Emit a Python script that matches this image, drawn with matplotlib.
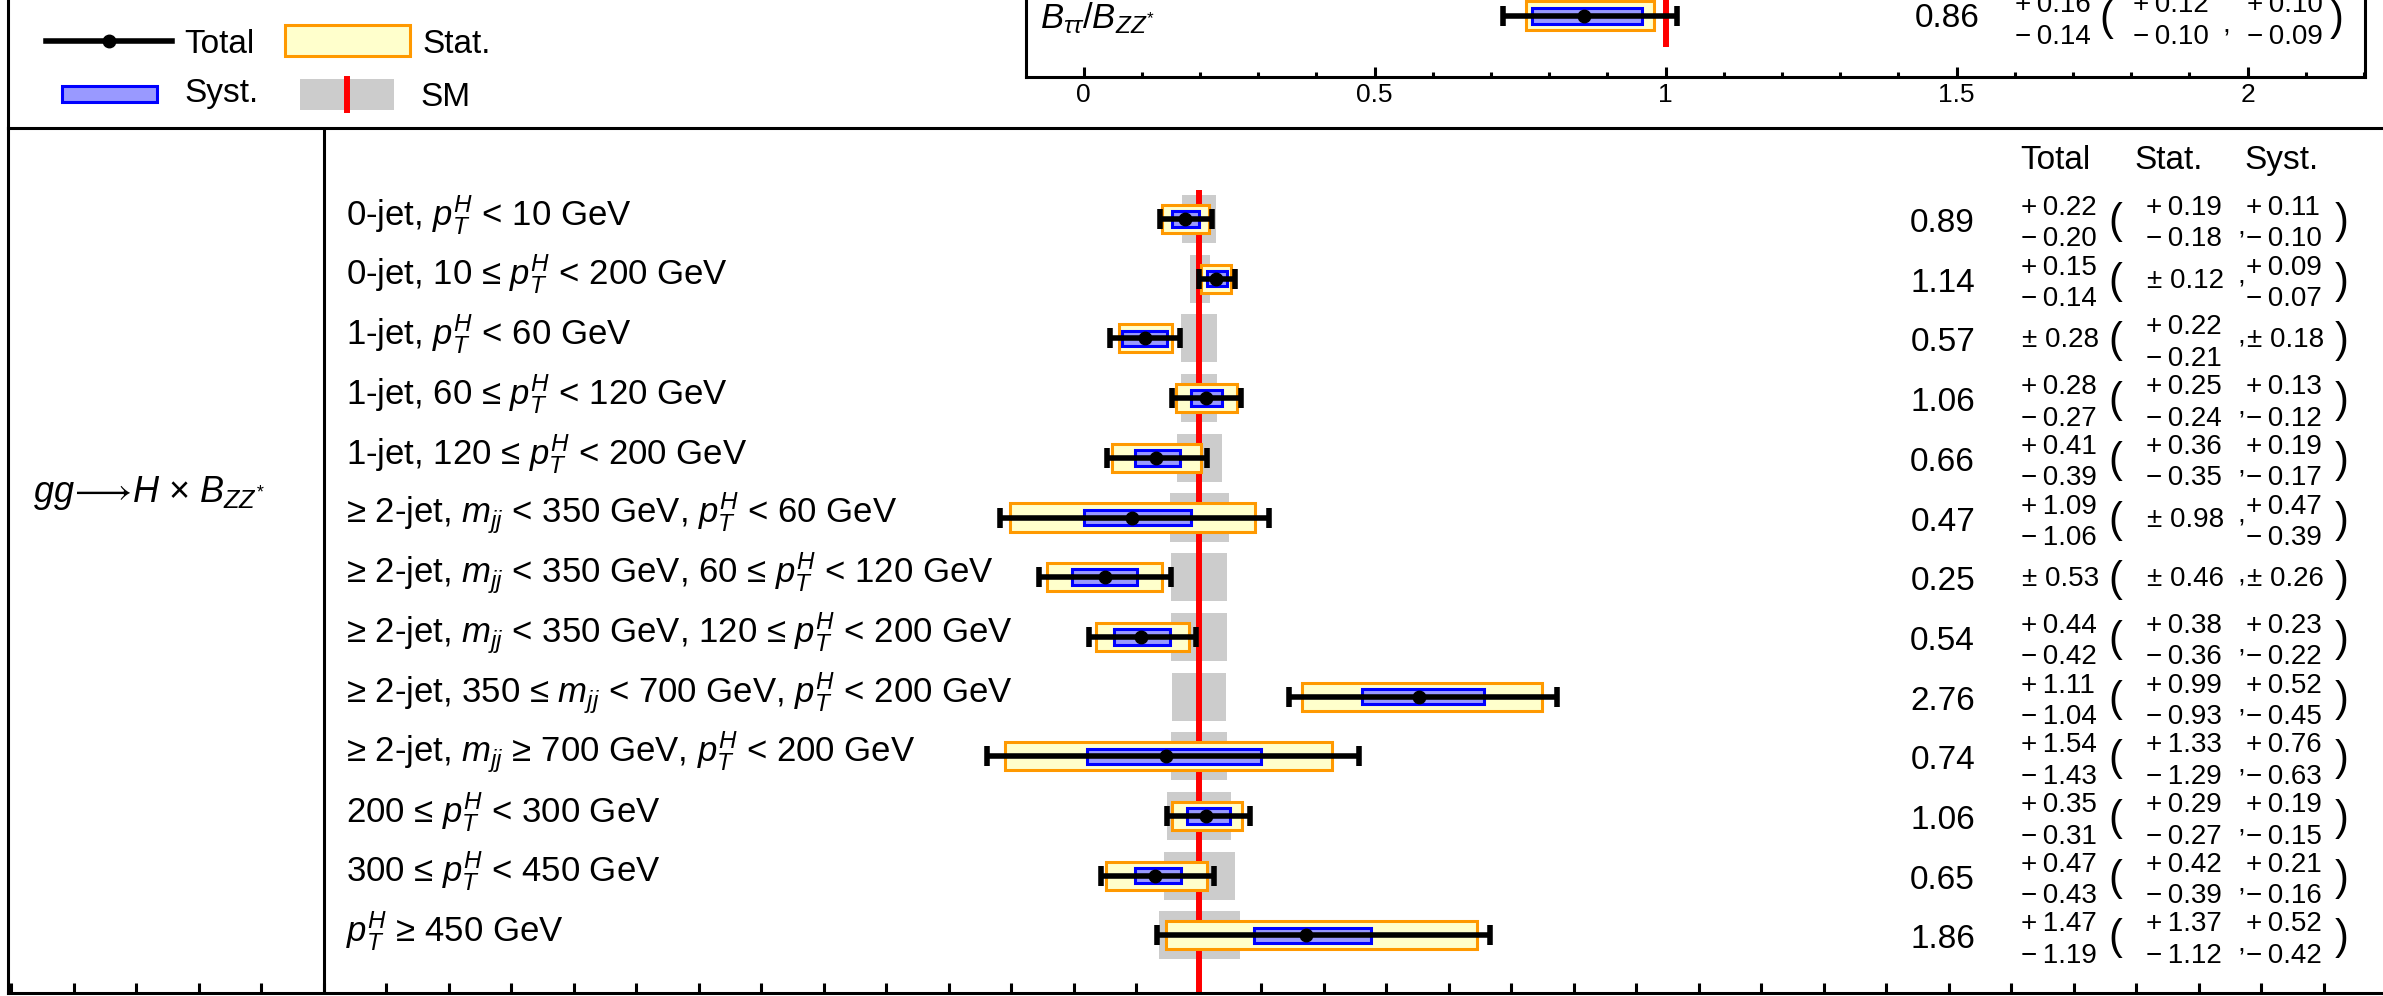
import numpy as np
import matplotlib
matplotlib.use('Agg')
import matplotlib.pyplot as plt
from matplotlib.patches import Rectangle
from matplotlib.ticker import MultipleLocator, FixedLocator, FixedFormatter
from matplotlib.transforms import blended_transform_factory

plt.rcParams['font.family'] = ['Liberation Sans', 'DejaVu Sans']
plt.rcParams['mathtext.fontset'] = 'custom'
plt.rcParams['mathtext.rm'] = 'Liberation Sans'
plt.rcParams['mathtext.it'] = 'Liberation Sans:italic'
plt.rcParams['mathtext.bf'] = 'Liberation Sans:bold'
plt.rcParams['mathtext.fallback'] = 'stixsans'

# ---- data ----
labels = [
    r'0-jet, $p_{T}^{H}$ < 10 GeV',
    r'0-jet, 10 ≤ $p_{T}^{H}$ < 200 GeV',
    r'1-jet, $p_{T}^{H}$ < 60 GeV',
    r'1-jet, 60 ≤ $p_{T}^{H}$ < 120 GeV',
    r'1-jet, 120 ≤ $p_{T}^{H}$ < 200 GeV',
    r'≥ 2-jet, $m_{jj}$ < 350 GeV, $p_{T}^{H}$ < 60 GeV',
    r'≥ 2-jet, $m_{jj}$ < 350 GeV, 60 ≤ $p_{T}^{H}$ < 120 GeV',
    r'≥ 2-jet, $m_{jj}$ < 350 GeV, 120 ≤ $p_{T}^{H}$ < 200 GeV',
    r'≥ 2-jet, 350 ≤ $m_{jj}$ < 700 GeV, $p_{T}^{H}$ < 200 GeV',
    r'≥ 2-jet, $m_{jj}$ ≥ 700 GeV, $p_{T}^{H}$ < 200 GeV',
    r'200 ≤ $p_{T}^{H}$ < 300 GeV',
    r'300 ≤ $p_{T}^{H}$ < 450 GeV',
    r'$p_{T}^{H}$ ≥ 450 GeV',
]
mu      = np.array([0.89, 1.14, 0.57, 1.06, 0.66, 0.47, 0.25, 0.54, 2.76, 0.74, 1.06, 0.65, 1.86])
tot_up  = np.array([0.22, 0.15, 0.28, 0.28, 0.41, 1.09, 0.53, 0.44, 1.11, 1.54, 0.35, 0.47, 1.47])
tot_dn  = np.array([0.20, 0.14, 0.28, 0.27, 0.39, 1.06, 0.53, 0.42, 1.04, 1.43, 0.31, 0.43, 1.19])
stat_up = np.array([0.19, 0.12, 0.22, 0.25, 0.36, 0.98, 0.46, 0.38, 0.99, 1.33, 0.29, 0.42, 1.37])
stat_dn = np.array([0.18, 0.12, 0.21, 0.24, 0.35, 0.98, 0.46, 0.36, 0.93, 1.29, 0.27, 0.39, 1.12])
syst_up = np.array([0.11, 0.09, 0.18, 0.13, 0.19, 0.47, 0.26, 0.23, 0.52, 0.76, 0.19, 0.21, 0.52])
syst_dn = np.array([0.10, 0.07, 0.18, 0.12, 0.17, 0.39, 0.26, 0.22, 0.45, 0.63, 0.15, 0.16, 0.42])
sm_lo   = np.array([0.87, 0.93, 0.86, 0.86, 0.83, 0.77, 0.78, 0.78, 0.79, 0.78, 0.75, 0.72, 0.68])
sm_hi   = np.array([1.14, 1.09, 1.15, 1.15, 1.19, 1.24, 1.23, 1.23, 1.22, 1.23, 1.26, 1.29, 1.33])
sm_value = 1.0
group_label = r'$gg\!\longrightarrow\!H$ × $B_{ZZ^{*}}$'

ratio_label = r'$B_{\tau\tau}/B_{ZZ^{*}}$'
ratio_mu = 0.86
ratio_tot = (0.16, 0.14)
ratio_stat = (0.12, 0.10)
ratio_syst = (0.10, 0.09)

top_ticks = [0, 0.5, 1, 1.5, 2]
top_tick_labels = ['0', '0.5', '1', '1.5', '2']

# ---- layout (pixels of the 2383x996 canvas) ----
W, H = 2383, 996
ROW0, ROW_PX = 219.0, 59.7
X1_PX, PX_UNIT = 1198.6, 125.0
TOP_Y0, TOP_X0, TOP_UNIT = 16.0, 1083.5, 582.0
LW = 2.2
ORANGE, YELLOW, BLUE, LBLUE, GREY = '#ff9900', '#ffffcc', '#0000ff', '#9999ff', '#cccccc'
ERR_KW = dict(fmt='o', color='k', ms=9, elinewidth=4.0, capsize=7, capthick=4.0, zorder=5)


def fx(px):
    return px / W


def fy(px):
    return 1 - px / H


def fmt(up, dn):
    if abs(up - dn) < 1e-9:
        return '± %.2f' % up, None
    return '+\u2009%.2f' % up, '\u2212\u2009%.2f' % dn


fig = plt.figure(figsize=(W / 100, H / 100), dpi=100)

# ---- main panel ----
ax = fig.add_axes([fx(8), fy(993), (2450 - 8) / W, (993 - 128) / H])
ax.set_xlim(1 + (8 - X1_PX) / PX_UNIT, 1 + (2450 - X1_PX) / PX_UNIT)
ax.set_ylim((993 - ROW0) / ROW_PX, (128 - ROW0) / ROW_PX)
for s in ax.spines.values():
    s.set_linewidth(LW)
ax.xaxis.set_major_locator(MultipleLocator(0.5))
ax.tick_params(axis='x', direction='in', length=7, width=LW, labelbottom=False, top=False)
ax.set_yticks([])
ax.axvline(-6.0, color='k', lw=LW)

rows = np.arange(len(mu))
ax.barh(rows, sm_hi - sm_lo, left=sm_lo, height=48 / ROW_PX, color=GREY, lw=0, zorder=1)
ax.vlines(sm_value, (190 - ROW0) / ROW_PX, (993 - ROW0) / ROW_PX, color='red', lw=4.3, zorder=2)
ax.barh(rows, stat_up + stat_dn, left=mu - stat_dn, height=28 / ROW_PX,
        facecolor=YELLOW, edgecolor=ORANGE, lw=LW, zorder=3)
ax.barh(rows, syst_up + syst_dn, left=mu - syst_dn, height=15.5 / ROW_PX,
        facecolor=LBLUE, edgecolor=BLUE, lw=LW, zorder=4)
ax.errorbar(mu, rows, xerr=[tot_dn, tot_up], **ERR_KW)

tr = blended_transform_factory(fig.transFigure, ax.transData)


def o(px):
    return px / ROW_PX


def err_row(trans, y, tot, stat, syst, xs, fs=20):
    xtot, xlp, xstat, xcom, xsyst, xrp = xs
    split = []
    for x, (up, dn) in [(xtot, tot), (xstat, stat), (xsyst, syst)]:
        a, b = fmt(up, dn)
        if b is None:
            fig.text(fx(x + 1), y + o(9), a, transform=trans, fontsize=fs, va='baseline')
            split.append(False)
        else:
            fig.text(fx(x), y + o(-4), a, transform=trans, fontsize=fs, va='baseline')
            fig.text(fx(x), y + o(27.5), b, transform=trans, fontsize=fs, va='baseline')
            split.append(True)
    fig.text(fx(xlp), y + o(14), '(', transform=trans, fontsize=30, va='baseline')
    fig.text(fx(xrp), y + o(14), ')', transform=trans, fontsize=30, va='baseline')
    cy = 16 if (split[1] and split[2]) else 5
    fig.text(fx(xcom), y + o(cy), ',', transform=trans, fontsize=fs, va='baseline')


main_cols = (2021, 2108, 2146, 2237, 2246, 2335)
for i in rows:
    fig.text(fx(346), i + o(6), labels[i], transform=tr, fontsize=25, va='baseline')
    fig.text(fx(1975), i + o(13), '%.2f' % mu[i], transform=tr, fontsize=24,
             va='baseline', ha='right')
    err_row(tr, i, (tot_up[i], tot_dn[i]), (stat_up[i], stat_dn[i]),
            (syst_up[i], syst_dn[i]), main_cols)

for x, t in [(2020, 'Total'), (2134.6, 'Stat.'), (2244, 'Syst.')]:
    fig.text(fx(x), o(169.3 - ROW0), t, transform=tr, fontsize=24, va='baseline')
fig.text(fx(33), o(502 - ROW0), group_label, transform=tr, fontsize=26, va='baseline')

# ---- top panel (ratio) ----
axt = fig.add_axes([fx(1026), fy(77), (2365 - 1026) / W, (77 + 60) / H])
axt.set_xlim((1026 - TOP_X0) / TOP_UNIT, (2365 - TOP_X0) / TOP_UNIT)
axt.set_ylim((77 - TOP_Y0) / ROW_PX, (-60 - TOP_Y0) / ROW_PX)
for s in axt.spines.values():
    s.set_linewidth(LW)
axt.xaxis.set_major_locator(FixedLocator(top_ticks))
axt.xaxis.set_major_formatter(FixedFormatter(top_tick_labels))
axt.xaxis.set_minor_locator(MultipleLocator(0.1))
axt.tick_params(axis='x', which='major', direction='in', length=7, width=LW,
                labelsize=19, pad=4, top=False)
axt.tick_params(axis='x', which='minor', direction='in', length=3.6, width=LW, top=False)
axt.set_yticks([])
axt.vlines(sm_value, (-60 - TOP_Y0) / ROW_PX, (47 - TOP_Y0) / ROW_PX, color='red', lw=4.3, zorder=2)
axt.barh([0], [ratio_stat[0] + ratio_stat[1]], left=ratio_mu - ratio_stat[1], height=29 / ROW_PX,
         facecolor=YELLOW, edgecolor=ORANGE, lw=LW, zorder=3)
axt.barh([0], [ratio_syst[0] + ratio_syst[1]], left=ratio_mu - ratio_syst[1], height=15.5 / ROW_PX,
         facecolor=LBLUE, edgecolor=BLUE, lw=LW, zorder=4)
axt.errorbar([ratio_mu], [0], xerr=[[ratio_tot[1]], [ratio_tot[0]]], **ERR_KW)

trt = blended_transform_factory(fig.transFigure, axt.transData)
fig.text(fx(1040), o(28 - TOP_Y0), ratio_label, transform=trt, fontsize=25, va='baseline')
fig.text(fx(1980), o(10.7), '%.2f' % ratio_mu, transform=trt, fontsize=24, va='baseline', ha='right')
err_row(trt, 0, ratio_tot, ratio_stat, ratio_syst, (2015, 2099, 2133, 2222, 2247, 2330))

# ---- legend ----
lg = fig.add_axes([0, 0, 1, 1], zorder=10)
lg.set_xlim(0, W)
lg.set_ylim(H, 0)
lg.axis('off')
lg.plot([8, 8], [0, 128], color='k', lw=LW)
lg.plot([46, 172], [41, 41], color='k', lw=4.0)
lg.plot([109], [41], 'o', color='k', ms=9)
lg.add_patch(Rectangle((285, 25), 125, 31, facecolor=YELLOW, edgecolor=ORANGE, lw=LW))
lg.add_patch(Rectangle((62, 86), 95, 16, facecolor=LBLUE, edgecolor=BLUE, lw=LW))
lg.add_patch(Rectangle((300, 79), 94, 31, facecolor=GREY, lw=0))
lg.plot([347, 347], [79, 110], color='red', lw=4.3)
lg.text(184, 53, 'Total', fontsize=24, va='baseline')
lg.text(422, 53, 'Stat.', fontsize=24, va='baseline')
lg.text(184, 102, 'Syst.', fontsize=24, va='baseline')
lg.text(420, 106, 'SM', fontsize=24, va='baseline')

fig.savefig('out.png', dpi=100)
